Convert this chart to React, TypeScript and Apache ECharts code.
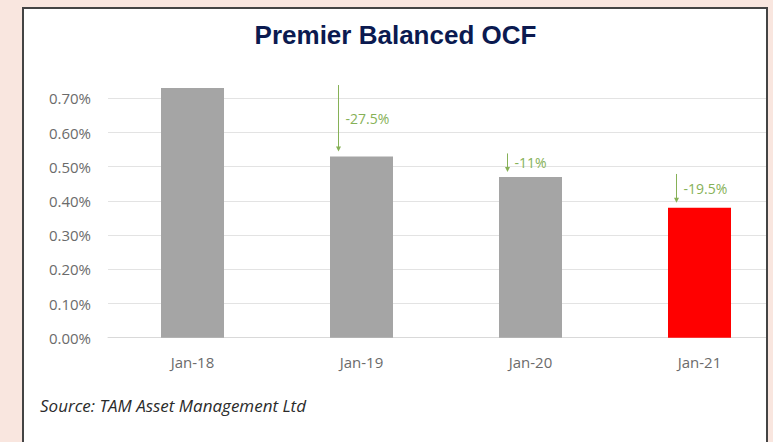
import React, { useEffect, useRef } from "react";
import * as echarts from "echarts";

const categories = ["Jan-18", "Jan-19", "Jan-20", "Jan-21"];
const ocfValues = [0.73, 0.53, 0.47, 0.38];
const barColors = ["#a5a5a5", "#a5a5a5", "#a5a5a5", "#ff0000"];
const changeLabels = ["", "-27.5%", "-11%", "-19.5%"];
const yTicks = [0, 0.1, 0.2, 0.3, 0.4, 0.5, 0.6, 0.7];
const titleText = "Premier Balanced OCF";
const sourceText = "Source: TAM Asset Management Ltd";

const PINK = "#f9e6df";
const BORDER = "#444444";
const GREEN = "#86b157";
const CHART_W = 800;

export default function App() {
  const ref = useRef<HTMLDivElement>(null);

  useEffect(() => {
    if (!ref.current) return;
    const chart = echarts.init(ref.current, undefined, { renderer: "svg" });

    const arrowData = categories
      .map((c, i) => (i === 0 ? null : [i, ocfValues[i - 1], ocfValues[i], changeLabels[i]]))
      .filter((d) => d !== null) as any[];

    chart.setOption({
      animation: false,
      backgroundColor: "transparent",
      grid: { left: 108, top: 98.3, right: CHART_W - 108 - 676, bottom: 104.3, containLabel: false },
      xAxis: {
        type: "category",
        data: categories,
        axisLine: { show: true, lineStyle: { color: "#d9d9d9", width: 1 } },
        axisTick: { show: false },
        axisLabel: {
          margin: 17,
          color: "#6b6b6b",
          fontFamily: "Open Sans",
          fontSize: 15,
        },
      },
      yAxis: {
        type: "value",
        min: yTicks[0],
        max: yTicks[yTicks.length - 1],
        interval: 0.1,
        axisLine: { show: false },
        axisTick: { show: false },
        splitLine: { lineStyle: { color: "#e3e3e3", width: 1 } },
        axisLabel: {
          margin: 17,
          color: "#6b6b6b",
          fontFamily: "Open Sans",
          fontSize: 15,
          formatter: (v: number) => v.toFixed(2) + "%",
        },
      },
      series: [
        {
          type: "bar",
          clip: false,
          barWidth: 63,
          data: ocfValues.map((v, i) => ({ value: v, itemStyle: { color: barColors[i] } })),
        },
        {
          type: "custom",
          clip: false,
          z: 5,
          data: arrowData,
          renderItem: (params: any, api: any) => {
            const idx = api.value(0);
            const prev = api.value(1);
            const cur = api.value(2);
            const label = changeLabels[idx];
            const p0 = api.coord([idx, prev]);
            const p1 = api.coord([idx, cur]);
            const x = p0[0] - 23;
            const yStart = p0[1] - 3;
            const yEnd = p1[1] - 5;
            return {
              type: "group",
              children: [
                {
                  type: "line",
                  shape: { x1: x, y1: yStart, x2: x, y2: yEnd - 4 },
                  style: { stroke: GREEN, lineWidth: 1 },
                },
                {
                  type: "polygon",
                  shape: { points: [[x - 2.5, yEnd - 5], [x + 2.5, yEnd - 5], [x, yEnd]] },
                  style: { fill: GREEN },
                },
                {
                  type: "text",
                  x: x + 7,
                  y: (yStart + yEnd) / 2,
                  style: {
                    text: label,
                    fill: GREEN,
                    font: "14px 'Open Sans'",
                    textAlign: "left",
                    textVerticalAlign: "middle",
                  },
                },
              ],
            };
          },
        },
      ],
      graphic: [
        {
          type: "text",
          x: 395.5,
          y: 35,
          z: 100,
          style: {
            text: titleText,
            fill: "#0b1a50",
            font: "bold 26px 'Liberation Sans'",
            textAlign: "center",
            textVerticalAlign: "middle",
          },
        },
        {
          type: "text",
          x: 40,
          y: 405,
          z: 100,
          style: {
            text: sourceText,
            fill: "#2b2b2b",
            font: "italic 17px 'Open Sans'",
            textAlign: "left",
            textVerticalAlign: "middle",
          },
        },
        {
          type: "rect",
          z: 100,
          shape: { x: 768, y: 0, width: CHART_W - 768, height: 442 },
          style: { fill: PINK },
        },
        {
          type: "rect",
          z: 101,
          shape: { x: 766, y: 7, width: 2, height: 435 },
          style: { fill: BORDER },
        },
      ],
    });

    return () => chart.dispose();
  }, []);

  return (
    <div
      style={{
        position: "absolute",
        left: 0,
        top: 0,
        width: 773,
        height: 442,
        background: PINK,
        overflow: "hidden",
      }}
    >
      <div
        style={{
          position: "absolute",
          left: 22,
          top: 7,
          width: 744,
          height: 440,
          background: "#ffffff",
          borderLeft: `2px solid ${BORDER}`,
          borderTop: `2px solid ${BORDER}`,
          boxSizing: "border-box",
        }}
      />
      <div
        ref={ref}
        style={{ position: "absolute", left: 0, top: 0, width: CHART_W, height: 442 }}
      />
    </div>
  );
}
